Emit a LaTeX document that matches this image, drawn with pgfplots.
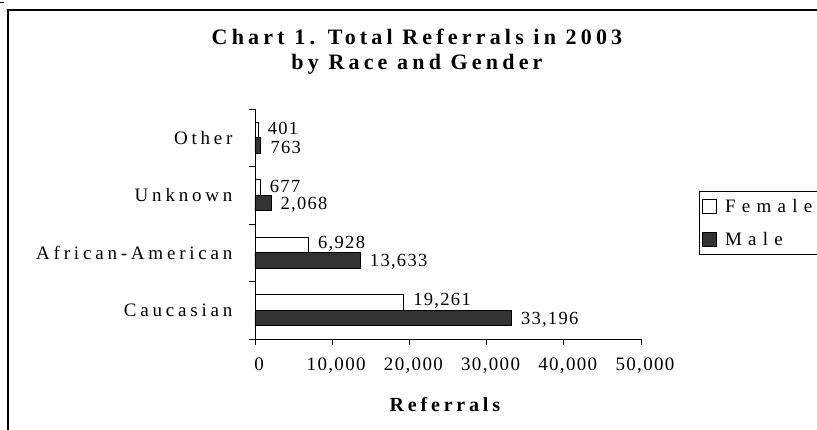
\documentclass[border=0pt]{standalone}
\usepackage{fontspec}
\setmainfont{Liberation Serif}
\newfontfamily\numfont{Liberation Serif}[LetterSpace=7]
\newfontfamily\catfont{Liberation Serif}[LetterSpace=20]
\newfontfamily\legfont{Liberation Serif}[LetterSpace=33]
\newfontfamily\ttlfont{Liberation Serif}[LetterSpace=19]
\usepackage{pgfplots}
\pgfplotsset{compat=1.18}
\definecolor{maleg}{HTML}{333333}

\begin{document}
\begin{tikzpicture}[x=1pt,y=1pt]
\path[use as bounding box] (0,0) rectangle (817,-429);
% chart frame, cut off at right and bottom
\draw[line width=1.1pt] (8,-460) -- (8,-10) -- (840,-10);
\draw[line width=0.6pt] (0,-2) -- (4,-2);
\begin{axis}[
    at={(255pt,-339pt)}, anchor=south west,
    scale only axis, width=386pt, height=230pt,
    xbar=0pt, bar width=15.5pt,
    xmin=0, xmax=50000, ymin=-0.5, ymax=3.5,
    axis lines*=left,
    axis line style={line width=0.8pt},
    xtick={0,10000,...,50000},
    ytick={0,1,2,3},
    yticklabels={Caucasian, African-American, Unknown, Other},
    minor ytick={-0.5,0.5,1.5,2.5,3.5},
    every major y tick/.style={draw=none},
    tick align=outside, major tick length=6pt, minor tick length=6pt,
    tick style={black, line width=0.8pt},
    scaled x ticks=false,
    /pgf/number format/1000 sep={,},
    /pgf/number format/assume math mode=true,
    xticklabel style={font=\numfont\fontsize{19pt}{22pt}\selectfont, yshift=-9pt, xshift=4pt},
    yticklabel style={font=\catfont\fontsize{19pt}{22pt}\selectfont, xshift=-13pt},
    title={Chart 1. Total Referrals in 2003\\by Race and Gender},
    title style={font=\ttlfont\bfseries\fontsize{22pt}{25pt}\selectfont, align=center,
        at={(axis description cs:0.4197,1.324)}, anchor=north, inner sep=0pt},
    xlabel={Referrals},
    xlabel style={font=\ttlfont\bfseries\fontsize{20pt}{24pt}\selectfont,
        at={(axis description cs:0.492,-0.317)}, anchor=base},
    nodes near coords,
    every node near coord/.append style={font=\numfont\fontsize{18.5pt}{21pt}\selectfont,
        black, xshift=6pt, inner ysep=0pt},
    legend style={at={(1.150,0.6435)}, anchor=north west, draw=black, line width=0.8pt,
        font=\legfont\fontsize{19pt}{22pt}\selectfont, inner xsep=3pt, inner ysep=6pt,
        row sep=14pt, column sep=6pt, cells={anchor=west}},
    legend image code/.code={\draw[#1, line width=0.8pt] (0pt,-7pt) rectangle (14pt,7pt);},
    reverse legend,
]
\addplot[draw=black, fill=maleg, line width=0.8pt,
    every node near coord/.append style={yshift=-1.5pt}]
    coordinates {(33196,0) (13633,1) (2068,2) (763,3)};
\addplot[draw=black, fill=white, line width=0.8pt,
    every node near coord/.append style={yshift=1.5pt}]
    coordinates {(19261,0) (6928,1) (677,2) (401,3)};
\legend{Male, Female}
\end{axis}
\end{tikzpicture}
\end{document}
